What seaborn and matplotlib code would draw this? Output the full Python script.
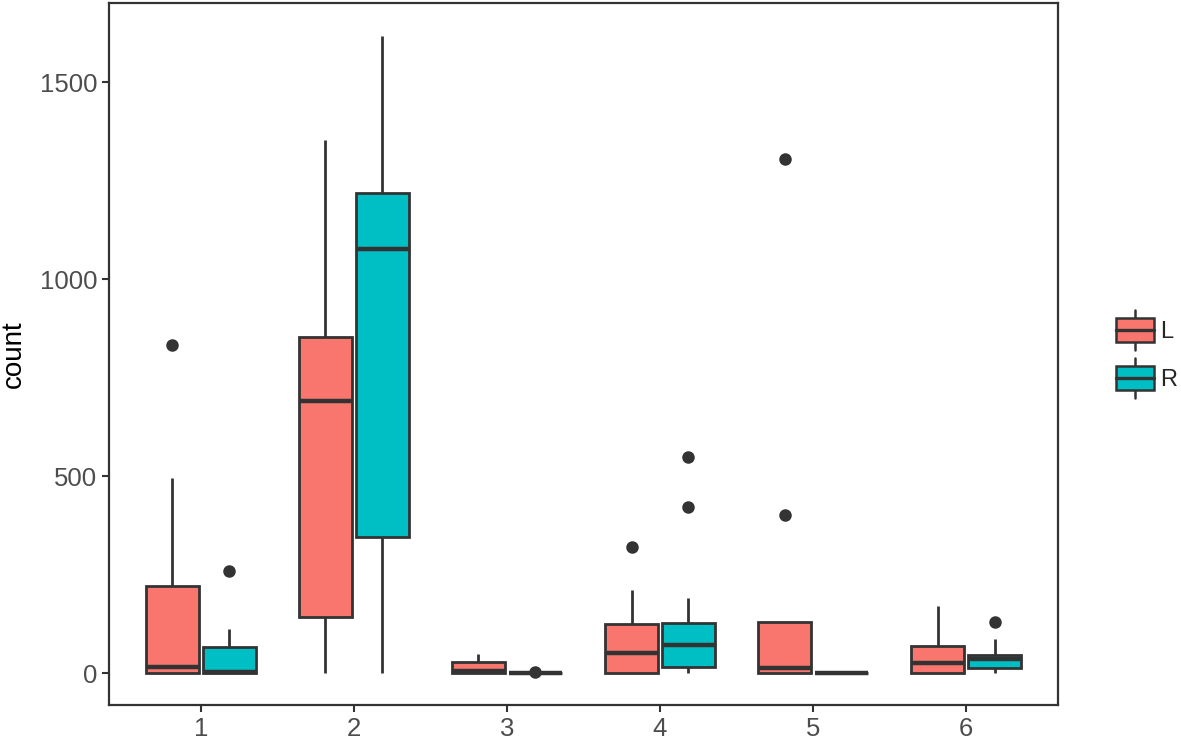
import numpy as np
import pandas as pd
import matplotlib
matplotlib.use("Agg")
import matplotlib.pyplot as plt
import seaborn as sns
from matplotlib.patches import Patch, Rectangle
from matplotlib.lines import Line2D
from matplotlib.legend_handler import HandlerBase

# === DATOS ===
groups = ["1", "2", "3", "4", "5", "6"]
sides = ["L", "R"]

g1_L = [0, 0, 0, 0, 5, 10, 15, 60, 150, 221, 300, 495, 832]
g1_R = [0, 0, 0, 0, 0, 0, 2, 20, 45, 66, 90, 112, 259]
g2_L = [0, 40, 100, 143, 400, 600, 690, 720, 800, 852, 1000, 1200, 1354]
g2_R = [0, 150, 280, 346, 700, 950, 1077, 1120, 1180, 1219, 1350, 1480, 1618]
g3_L = [0, 0, 0, 0, 2, 4, 5, 10, 20, 27, 35, 42, 48]
g3_R = [0, 0, 0, 0, 0, 0, 0, 0, 0, 0, 0, 0, 3]
g4_L = [0, 0, 0, 0, 15, 35, 52, 80, 110, 125, 160, 211, 320]
g4_R = [0, 5, 10, 16, 40, 60, 71, 90, 110, 127, 190, 421, 549]
g5_L = [0, 0, 0, 0, 0, 5, 12, 40, 90, 129, 129, 402, 1305]
g5_R = [0, 0, 0, 0, 0, 0, 0, 0, 0, 0, 0, 0, 0]
g6_L = [0, 0, 0, 0, 8, 15, 25, 40, 55, 69, 100, 140, 170]
g6_R = [0, 5, 8, 12, 20, 28, 35, 38, 42, 45, 60, 86, 129]

series = {
    ("1", "L"): g1_L, ("1", "R"): g1_R,
    ("2", "L"): g2_L, ("2", "R"): g2_R,
    ("3", "L"): g3_L, ("3", "R"): g3_R,
    ("4", "L"): g4_L, ("4", "R"): g4_R,
    ("5", "L"): g5_L, ("5", "R"): g5_R,
    ("6", "L"): g6_L, ("6", "R"): g6_R,
}

rows = []
for (g, s), vals in series.items():
    for v in vals:
        rows.append({"group": g, "side": s, "count": v})
df = pd.DataFrame(rows)

colors = {"L": "#F8766D", "R": "#00BFC4"}
LINE = "#333333"

# === ESTILO ===
sns.set_style("white")
plt.rcParams["font.family"] = ["Liberation Sans", "DejaVu Sans"]

fig = plt.figure(figsize=(11.81, 7.42), dpi=100)
ax = fig.add_axes([0.0923, 0.0499, 0.8035, 0.946])

sns.boxplot(
    data=df, x="group", y="count", hue="side",
    order=groups, hue_order=sides, palette=colors, saturation=1,
    width=0.744, gap=0.07, linecolor=LINE, linewidth=2,
    showcaps=False, whis=1.5,
    medianprops=dict(linewidth=3.2, color=LINE),
    flierprops=dict(marker="o", markerfacecolor=LINE, markeredgecolor=LINE,
                    markersize=8),
    legend=False, ax=ax,
)

ax.set_xlim(-0.6, 5.6)
ax.set_ylim(-81, 1701)
ax.set_yticks([0, 500, 1000, 1500])
ax.set_xlabel("")
ax.set_ylabel("count", fontsize=20, color="black", labelpad=9)
ax.tick_params(axis="both", labelsize=18.5, labelcolor="#4D4D4D", color=LINE,
               length=5, width=1.5, direction="out", bottom=True, left=True)
for sp in ax.spines.values():
    sp.set_visible(True)
    sp.set_color(LINE)
    sp.set_linewidth(1.6)


# === LEYENDA con glifo de caja ===
class BoxHandler(HandlerBase):
    def create_artists(self, legend, orig_handle, xdescent, ydescent,
                       width, height, fontsize, trans):
        x0, y0 = -xdescent, -ydescent
        bh = height * 0.8
        by = y0 + (height - bh) / 2
        xm = x0 + width / 2
        lw = 1.8
        w_low = Line2D([xm, xm], [y0 - height * 0.17, by], color=LINE, lw=lw, transform=trans)
        w_up = Line2D([xm, xm], [by + bh, y0 + height * 1.17], color=LINE, lw=lw, transform=trans)
        box = Rectangle((x0, by), width, bh, facecolor=orig_handle.get_facecolor(),
                        edgecolor=LINE, lw=lw, transform=trans)
        med = Line2D([x0, x0 + width], [by + bh / 2] * 2, color=LINE, lw=2.4, transform=trans)
        return [w_low, w_up, box, med]


handles = [Patch(facecolor=colors[s], label=s) for s in sides]
fig.legend(handles=handles, handler_map={Patch: BoxHandler()},
           loc="center left", bbox_to_anchor=(0.945, 0.523), frameon=False,
           fontsize=17, handlelength=1.6, handleheight=1.6, handletextpad=0.25,
           labelspacing=0.75, borderaxespad=0, borderpad=0)

plt.savefig("out.png", dpi=100)
